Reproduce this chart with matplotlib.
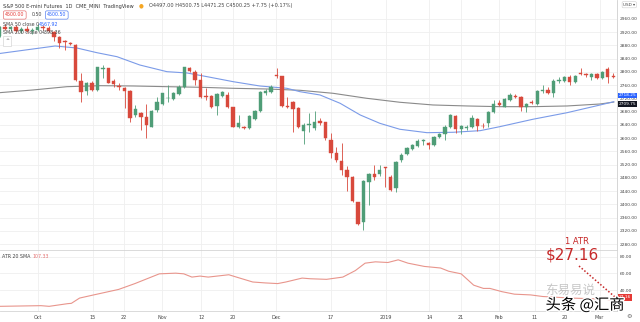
import matplotlib
matplotlib.use("Agg")
from matplotlib import pyplot as plt
from matplotlib import patheffects
from matplotlib.lines import Line2D
import numpy as np

# daily candles, late Sep 2018 -> early Mar 2019
opens = [2908, 2935, 2931, 2937, 2925, 2930, 2923, 2928, 2936, 2932,
         2921.5, 2906.5, 2893.5, 2888.5, 2881.5, 2773.5, 2743.5, 2767.5, 2744.5, 2808,
         2811, 2772.75, 2757, 2752.5, 2742.5, 2670, 2675, 2664.75, 2634.5, 2685,
         2703.25, 2720, 2718.25, 2733.5, 2753.75, 2813, 2800.75, 2775.75, 2728.25, 2727.5,
         2697.25, 2728.25, 2730.5, 2693.25, 2634.5, 2632, 2629.75, 2657, 2683, 2735.5,
         2738.5, 2791.75, 2787.75, 2697.25, 2710.25, 2690.25, 2622.5, 2640, 2629.75, 2651.75,
         2648, 2594.5, 2556, 2531, 2503.75, 2483.5, 2406.25, 2345.75, 2466.75, 2491.5,
         2491.75, 2511.75, 2483.5, 2450.5, 2534, 2551.25, 2567.25, 2576.5, 2591.5, 2586.25,
         2579.25, 2602.5, 2612.5, 2632.75, 2667, 2626.75, 2630, 2632.75, 2657, 2638,
         2645, 2680, 2705.25, 2695, 2715.25, 2727.5, 2723.5, 2695, 2709.25, 2703.25,
         2742, 2746.5, 2735.5, 2773.5, 2773.5, 2784, 2770.5, 2797, 2794, 2785.75,
         2793, 2780.75, 2809, 2787.75]
highs = [2938, 2945, 2940, 2942, 2935, 2940, 2932, 2945, 2942, 2940,
         2923.75, 2908.5, 2896.5, 2891.5, 2884.5, 2797, 2770.5, 2773.5, 2816, 2821,
         2813, 2777.75, 2765.75, 2755.5, 2745.5, 2700.25, 2680, 2703.25, 2685, 2725.25,
         2737.5, 2760.5, 2740.5, 2760.5, 2816, 2814, 2806, 2796, 2750.5, 2730.5,
         2736.5, 2743.5, 2740.5, 2695, 2670, 2636.75, 2670, 2685, 2742.5, 2747.5,
         2760.5, 2812, 2788.75, 2725.25, 2713.25, 2693.25, 2645, 2677, 2683, 2660,
         2649.75, 2614.75, 2574.25, 2586.25, 2516, 2485.75, 2408, 2473.5, 2495.75, 2519,
         2519, 2513.75, 2488.75, 2532, 2554.25, 2574.25, 2582.5, 2596.5, 2596.5, 2589.25,
         2606.5, 2616.5, 2639.75, 2673, 2670, 2639.75, 2639.75, 2670, 2660, 2645,
         2683, 2715.25, 2715.25, 2720.5, 2735.5, 2733.5, 2727.5, 2707.25, 2715.25, 2745.5,
         2760.5, 2755.5, 2777.75, 2784, 2787.75, 2790.75, 2790.75, 2811, 2797.75, 2797.75,
         2796, 2803.75, 2816, 2796]
lows = [2905, 2928, 2925, 2922, 2918, 2920, 2915, 2925, 2927, 2920,
        2894.5, 2872.5, 2866.5, 2881.5, 2773.5, 2710, 2730.5, 2742.5, 2743.5, 2782,
        2765.75, 2755.5, 2745.5, 2691, 2649.75, 2664.75, 2624.75, 2600.5, 2632.75, 2680,
        2700.25, 2710.25, 2715.25, 2730.5, 2750.5, 2800.75, 2760.5, 2720.5, 2715.25, 2690.25,
        2670, 2725.25, 2690.25, 2632.75, 2629.75, 2626.75, 2627.75, 2655, 2680, 2730.5,
        2735.5, 2781.75, 2695, 2690.25, 2619.5, 2629.75, 2582.5, 2619.5, 2624.75, 2639.75,
        2594.5, 2539.25, 2529, 2488.75, 2441.25, 2408, 2337.75, 2322.5, 2398, 2473.5,
        2486.5, 2453.5, 2440.5, 2438.25, 2529, 2549, 2564.25, 2574.25, 2579.25, 2566.5,
        2576.25, 2599.5, 2594.5, 2629.75, 2614.75, 2612.5, 2624.75, 2629.75, 2622.5, 2629.75,
        2634.5, 2677, 2697.25, 2693.25, 2713.25, 2720.5, 2683, 2680, 2703.25, 2700.25,
        2737.5, 2733.5, 2725.25, 2765.75, 2770.5, 2760.5, 2767.5, 2790.75, 2785.75, 2775.75,
        2777.75, 2777.75, 2765.75, 2780.75]
closes = [2935, 2931, 2937, 2925, 2930, 2923, 2928, 2936, 2932, 2924,
          2906.5, 2888.5, 2889.5, 2884.5, 2775.75, 2740.5, 2765.75, 2744.5, 2814, 2811,
          2767.5, 2763.5, 2755, 2742.5, 2660, 2687.25, 2664.75, 2639.75, 2683, 2708.25,
          2735.5, 2721, 2737.5, 2755.5, 2814, 2803.75, 2775.75, 2725.25, 2723.5, 2695,
          2732.5, 2740.5, 2693.25, 2634.5, 2646.75, 2631, 2667, 2682, 2739.5, 2742.5,
          2755.5, 2787.75, 2697.25, 2693.25, 2688, 2634.5, 2640.75, 2642, 2649.75, 2645,
          2599.5, 2554.25, 2534.25, 2503.75, 2483.5, 2411, 2340.75, 2470.5, 2491.5, 2483.5,
          2503.75, 2510, 2443.5, 2529, 2548, 2569.5, 2579.25, 2591.5, 2593.5, 2578.5,
          2602.5, 2611.75, 2633.75, 2669, 2628.5, 2636.75, 2632.5, 2660, 2636.75, 2636.5,
          2680, 2702.25, 2701, 2717.5, 2729.5, 2725.25, 2695, 2703.25, 2706.25, 2742.5,
          2745, 2737.5, 2773.5, 2775.75, 2784, 2768.75, 2787.75, 2794, 2790.75, 2793,
          2780.75, 2800.75, 2785.75, 2785.75]

# moving averages (bar index, price)
sma50_x = [0, 10.2, 14.2, 17.9, 21.6, 25.8, 30.8, 34.5, 38.2, 43, 47.9, 52.9, 55.3, 59,
           62.7, 66.4, 70, 73.7, 78.7, 83.5, 88.5, 92.1, 98.2, 104.5, 110.6, 113.1]
sma50_y = [2855.8, 2878.4, 2872.4, 2858.2, 2846.1, 2821.0, 2800.8, 2796.9, 2785.7, 2770.6,
           2757.6, 2750.6, 2740.4, 2730.4, 2705.3, 2670.0, 2644.9, 2626.8, 2616.5, 2617.7,
           2622.6, 2634.6, 2657.0, 2676.9, 2700.2, 2710.0]
sma200_x = [0, 6.1, 12.4, 18.5, 24.5, 30.8, 36.9, 43, 49.2, 55.3, 61.4, 67.6, 73.7, 79.8,
            86.1, 92.1, 98.2, 104.5, 110.6, 113.1]
sma200_y = [2737.4, 2745.5, 2755.5, 2758.5, 2757.6, 2755.5, 2753.7, 2750.6, 2748.5, 2744.6,
            2735.5, 2720.4, 2708.4, 2700.2, 2697.2, 2695.1, 2695.1, 2697.2, 2703.2, 2709.0]

# ATR pane
atr_x = [0, 7.6, 9.1, 12.5, 13.2, 14.7, 17.3, 21.9, 24.9, 27.9, 29.4, 32.4, 33.9, 35.4,
         36.9, 38.4, 42.2, 43.6, 46.6, 48.9, 51.2, 52.7, 55.7, 57.2, 60.2, 63.2, 65.5, 67.3,
         69.2, 71.5, 73.4, 75.2, 78.2, 81.2, 82.7, 85, 87.3, 89.1, 90.3, 92.5, 94.8, 97.8,
         100, 105.3, 111.3, 113.2]
atr_y = [20.4, 21.2, 20.4, 23.6, 24.0, 30.3, 34.1, 40.7, 47.7, 55.5, 59.4, 60.2, 59.4, 55.5,
         56.7, 55.5, 58.3, 55.5, 49.6, 48.5, 47.7, 49.6, 54.3, 53.5, 52.8, 55.5, 63.3, 72.2,
         73.8, 73.0, 76.2, 72.2, 68.3, 66.4, 62.5, 59.4, 45.8, 41.9, 41.9, 38.0, 35.0, 34.1,
         32.2, 30.3, 29.1, 27.6]

time_ticks = [7, 17.2, 22.9, 29.9, 37.1, 43, 50.9, 61, 71.1, 79.1, 85, 92, 98.6, 104.1, 110.5]
time_labels = ["Oct", "15", "22", "Nov", "12", "20", "Dec", "17", "2019", "14", "21",
               "Feb", "11", "20", "Mar"]
price_ticks = list(range(2280, 2961, 40))
atr_ticks = [40, 60, 80]

GREEN = "#4f9d77"
RED = "#d8493c"
GRID = "#efefef"
TXT = "#444444"
W, H = 640, 322

fig = plt.figure(figsize=(6.4, 3.22), dpi=100)
plt.rcParams['font.family'] = ['DejaVu Sans', 'Noto Sans CJK SC']


def box(x0, y0, x1, y1):
    # pixel box, top-left origin -> figure rect
    return [x0 / W, 1 - y1 / H, (x1 - x0) / W, (y1 - y0) / H]


def fx(x):
    return x / W


def fy(y):
    return 1 - y / H


ax = fig.add_axes(box(0, 0, 617, 250))
ax2 = fig.add_axes(box(0, 250, 617, 311), sharex=ax)

# candles
o = np.array(opens)
h = np.array(highs)
l = np.array(lows)
c = np.array(closes)
idx = np.arange(len(o))
cols = np.where(c >= o, GREEN, RED)
ax.vlines(idx, l, h, colors=cols, lw=0.6, zorder=3)
ax.bar(idx, np.maximum(np.abs(c - o), 1.2), bottom=np.minimum(o, c), width=0.62,
       color=cols, edgecolor=cols, lw=0.3, zorder=4)

ax.plot(sma200_x, sma200_y, color="#8a8a8a", lw=0.8, zorder=2)
ax.plot(sma50_x, sma50_y, color="#7b9be8", lw=0.8, zorder=2)

ax.set_xlim(0.05, 113.7)
ax.set_ylim(2262, 3017.4)
ax.set_yticks(price_ticks)
ax.set_yticklabels([f"{p:.2f}" for p in price_ticks])
ax.yaxis.tick_right()
ax.tick_params(axis="y", length=0, pad=2.2, labelsize=3.2, labelcolor=TXT)
ax.tick_params(axis="x", length=0, labelbottom=False)
ax.set_xticks(time_ticks)
ax.grid(True, color=GRID, lw=0.6)
ax.set_axisbelow(True)
for s in ["top", "left", "bottom"]:
    ax.spines[s].set_visible(False)
ax.spines["right"].set_color("#cfcfcf")
ax.spines["right"].set_linewidth(0.6)

# right edge price tags
yt = ax.get_yaxis_transform()
ax.text(1.003, 2729, "2718.25", transform=yt, fontsize=3.1, color="white", va="center",
        ha="left", bbox=dict(boxstyle="square,pad=0.2", fc="#2962ff", ec="none"), clip_on=False)
ax.text(1.003, 2704, "2709.75", transform=yt, fontsize=3.1, color="white", va="center",
        ha="left", bbox=dict(boxstyle="square,pad=0.2", fc="#131722", ec="none"), clip_on=False)
ax.text(1.01, 3003, "USD ▾", transform=yt, fontsize=3.0, color=TXT, va="center", ha="left",
        bbox=dict(boxstyle="round,pad=0.25", fc="white", ec="#cccccc", lw=0.4), clip_on=False)

# ATR pane
ax2.plot(atr_x, atr_y, color="#e8958c", lw=0.8)
ax2.set_ylim(14.8, 88)
ax2.set_yticks(atr_ticks)
ax2.set_yticklabels([f"{v:.2f}" for v in atr_ticks])
ax2.yaxis.tick_right()
ax2.tick_params(axis="y", length=0, pad=2.2, labelsize=3.2, labelcolor=TXT)
ax2.set_xticks(time_ticks)
ax2.set_xticklabels(time_labels)
ax2.tick_params(axis="x", length=0, pad=3, labelsize=3.5, labelcolor=TXT)
ax2.grid(True, color=GRID, lw=0.6)
ax2.set_axisbelow(True)
ax2.spines["left"].set_visible(False)
for s in ["top", "bottom", "right"]:
    ax2.spines[s].set_color("#d4d4d4")
    ax2.spines[s].set_linewidth(0.6)
ax2.text(1.003, 31, "27.16", transform=ax2.get_yaxis_transform(), fontsize=3.1, color="white",
         va="center", ha="left", bbox=dict(boxstyle="square,pad=0.25", fc="#e53935", ec="none"),
         clip_on=False)
ax2.text(0.004, 0.9, "ATR 20 SMA", transform=ax2.transAxes, fontsize=3.4, color=TXT, va="center")
ax2.text(0.052, 0.9, "107.33", transform=ax2.transAxes, fontsize=3.4, color="#e57373", va="center")

# header legend
fig.text(fx(3), fy(6), "S&P 500 E-mini Futures  1D  CME_MINI  TradingView", fontsize=3.6,
         color="#333333", va="center")
fig.text(fx(139), fy(6), "●", fontsize=4, color="#f5a623", va="center")
fig.text(fx(149), fy(6), "O4497.00 H4500.75 L4471.25 C4500.25 +7.75 (+0.17%)", fontsize=3.6,
         color=TXT, va="center")
fig.text(fx(5), fy(15), "4500.00", fontsize=3.4, color="#e53935", va="center",
         bbox=dict(boxstyle="round,pad=0.35", fc="white", ec="#e57373", lw=0.5))
fig.text(fx(32), fy(15), "0.50", fontsize=3.4, color=TXT, va="center")
fig.text(fx(47), fy(15), "4500.50", fontsize=3.4, color="#2962ff", va="center",
         bbox=dict(boxstyle="round,pad=0.35", fc="white", ec="#5c84f0", lw=0.5))
fig.text(fx(3), fy(24), "SMA 50 close 0", fontsize=3.4, color=TXT, va="center")
fig.text(fx(39), fy(24), "4567.92", fontsize=3.4, color="#2962ff", va="center")
fig.text(fx(3), fy(32), "SMA 200 close 0", fontsize=3.4, color=TXT, va="center")
fig.text(fx(42), fy(32), "4398.36", fontsize=3.4, color=TXT, va="center")
fig.text(fx(5), fy(41), "^", fontsize=3.4, color=TXT, va="center",
         bbox=dict(boxstyle="square,pad=0.5", fc="white", ec="#cccccc", lw=0.4))
fig.text(fx(629), fy(316.5), "⚙", fontsize=4.5, color="#666666", va="center", ha="center")

# ATR annotation
ANN = "#c62828"
fig.text(fx(577), fy(241), "1 ATR", fontsize=6, color=ANN, va="center", ha="center")
fig.text(fx(572), fy(255), "$27.16", fontsize=11, color=ANN, va="center", ha="center")
fig.add_artist(Line2D([fx(579), fx(615)], [fy(266), fy(297)], transform=fig.transFigure,
                      color=ANN, lw=1.1, ls=(0, (1, 1.3))))

# watermarks
fig.text(fx(570), fy(290), "东易易说", fontsize=9, color="#9a9a9a", alpha=0.55,
         va="center", ha="center", family=["Noto Sans CJK SC", "DejaVu Sans"])
fig.text(fx(585), fy(305), "头条 @汇商", fontsize=11, color="black", va="center", ha="center",
         family=["Noto Sans CJK SC", "DejaVu Sans"],
         path_effects=[patheffects.withStroke(linewidth=2, foreground="white")])

fig.savefig("out.png", dpi=100)
